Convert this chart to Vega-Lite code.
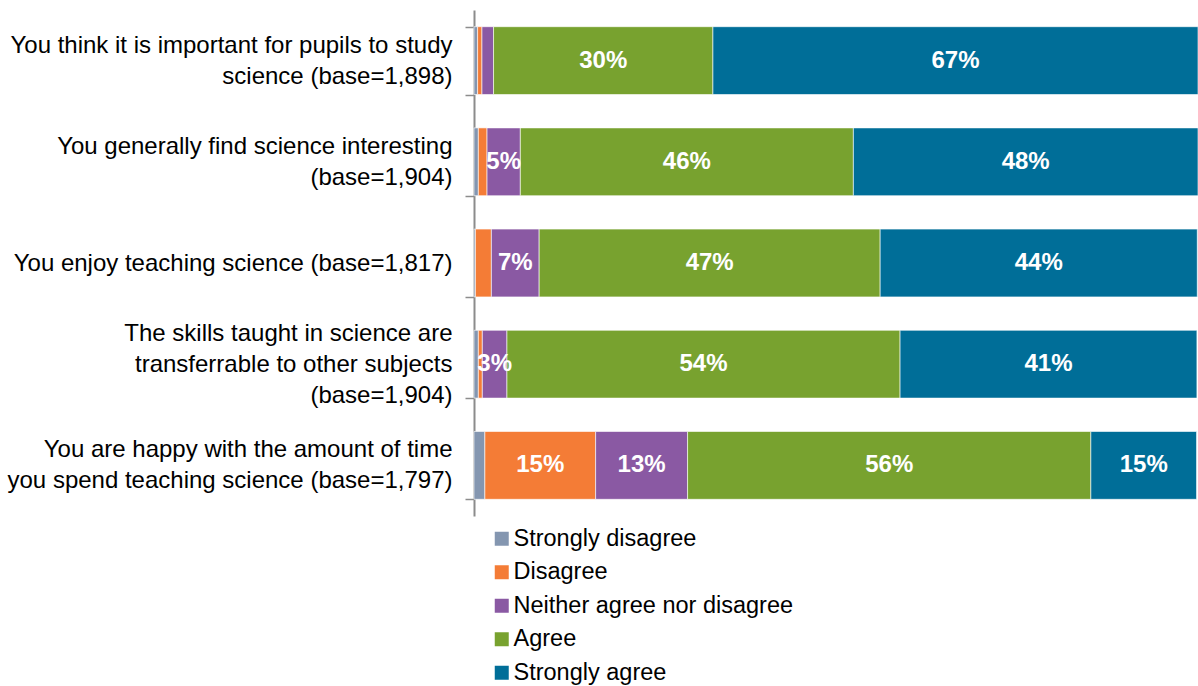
{
  "$schema": "https://vega.github.io/schema/vega-lite/v6.json",
  "width": 724,
  "height": 506,
  "autosize": {"type": "none"},
  "padding": {"left": 474, "top": 10, "right": 0, "bottom": 170},
  "background": "white",
  "config": {"view": {"stroke": null}, "font": "Liberation Sans"},
  "data": {
    "values": [
      {"item": "You think it is important for pupils to study|science (base=1,898)", "row": 1, "response": "Strongly disagree", "ord": 1, "value": 0.005},
      {"item": "You think it is important for pupils to study|science (base=1,898)", "row": 1, "response": "Disagree", "ord": 2, "value": 0.006},
      {"item": "You think it is important for pupils to study|science (base=1,898)", "row": 1, "response": "Neither agree nor disagree", "ord": 3, "value": 0.016},
      {"item": "You think it is important for pupils to study|science (base=1,898)", "row": 1, "response": "Agree", "ord": 4, "value": 0.303},
      {"item": "You think it is important for pupils to study|science (base=1,898)", "row": 1, "response": "Strongly agree", "ord": 5, "value": 0.670},
      {"item": "You generally find science interesting|(base=1,904)", "row": 2, "response": "Strongly disagree", "ord": 1, "value": 0.006},
      {"item": "You generally find science interesting|(base=1,904)", "row": 2, "response": "Disagree", "ord": 2, "value": 0.012},
      {"item": "You generally find science interesting|(base=1,904)", "row": 2, "response": "Neither agree nor disagree", "ord": 3, "value": 0.046},
      {"item": "You generally find science interesting|(base=1,904)", "row": 2, "response": "Agree", "ord": 4, "value": 0.460},
      {"item": "You generally find science interesting|(base=1,904)", "row": 2, "response": "Strongly agree", "ord": 5, "value": 0.476},
      {"item": "You enjoy teaching science (base=1,817)", "row": 3, "response": "Strongly disagree", "ord": 1, "value": 0.002},
      {"item": "You enjoy teaching science (base=1,817)", "row": 3, "response": "Disagree", "ord": 2, "value": 0.022},
      {"item": "You enjoy teaching science (base=1,817)", "row": 3, "response": "Neither agree nor disagree", "ord": 3, "value": 0.066},
      {"item": "You enjoy teaching science (base=1,817)", "row": 3, "response": "Agree", "ord": 4, "value": 0.471},
      {"item": "You enjoy teaching science (base=1,817)", "row": 3, "response": "Strongly agree", "ord": 5, "value": 0.438},
      {"item": "The skills taught in science are|transferrable to other subjects|(base=1,904)", "row": 4, "response": "Strongly disagree", "ord": 1, "value": 0.006},
      {"item": "The skills taught in science are|transferrable to other subjects|(base=1,904)", "row": 4, "response": "Disagree", "ord": 2, "value": 0.0055},
      {"item": "The skills taught in science are|transferrable to other subjects|(base=1,904)", "row": 4, "response": "Neither agree nor disagree", "ord": 3, "value": 0.034},
      {"item": "The skills taught in science are|transferrable to other subjects|(base=1,904)", "row": 4, "response": "Agree", "ord": 4, "value": 0.543},
      {"item": "The skills taught in science are|transferrable to other subjects|(base=1,904)", "row": 4, "response": "Strongly agree", "ord": 5, "value": 0.410},
      {"item": "You are happy with the amount of time|you spend teaching science (base=1,797)", "row": 5, "response": "Strongly disagree", "ord": 1, "value": 0.015},
      {"item": "You are happy with the amount of time|you spend teaching science (base=1,797)", "row": 5, "response": "Disagree", "ord": 2, "value": 0.153},
      {"item": "You are happy with the amount of time|you spend teaching science (base=1,797)", "row": 5, "response": "Neither agree nor disagree", "ord": 3, "value": 0.127},
      {"item": "You are happy with the amount of time|you spend teaching science (base=1,797)", "row": 5, "response": "Agree", "ord": 4, "value": 0.557},
      {"item": "You are happy with the amount of time|you spend teaching science (base=1,797)", "row": 5, "response": "Strongly agree", "ord": 5, "value": 0.146}
    ]
  },
  "transform": [
    {"stack": "value", "groupby": ["item"], "sort": [{"field": "ord", "order": "ascending"}], "as": ["x0", "x1"], "offset": "zero"},
    {"calculate": "(datum.x0 + datum.x1) / 2", "as": "xm"}
  ],
  "encoding": {
    "y": {
      "field": "item", "type": "nominal",
      "sort": {"field": "row", "order": "ascending"},
      "scale": {"paddingInner": 0.33, "paddingOuter": 0.165},
      "axis": {
        "title": null,
        "labelExpr": "isValid(datum.value) ? split(datum.value, '|') : ''",
        "labelFontSize": 24,
        "labelColor": "#000000",
        "labelLineHeight": 31,
        "labelPadding": 13,
        "labelLimit": 480,
        "labelOffset": {
          "condition": [
            {"test": "isValid(datum.value) && length(split(datum.value, '|')) == 3", "value": -31},
            {"test": "isValid(datum.value) && length(split(datum.value, '|')) == 2", "value": -15.5}
          ],
          "value": 0
        },
        "tickBand": "extent",
        "tickSize": 9,
        "tickColor": "#8c8c8c",
        "tickWidth": 1.5,
        "domainColor": "#8c8c8c",
        "domainWidth": 2
      }
    }
  },
  "layer": [
    {
      "mark": {"type": "bar", "stroke": "white", "strokeWidth": 0.6},
      "encoding": {
        "x": {"field": "x0", "type": "quantitative", "scale": {"domain": [0, 1], "nice": false}, "axis": null},
        "x2": {"field": "x1"},
        "color": {
          "field": "response", "type": "nominal",
          "scale": {
            "domain": ["Strongly disagree", "Disagree", "Neither agree nor disagree", "Agree", "Strongly agree"],
            "range": ["#8496B0", "#F47C36", "#8A59A3", "#78A22F", "#006E98"]
          },
          "legend": {
            "title": null,
            "orient": "none",
            "legendX": 16,
            "legendY": 517,
            "symbolType": "square",
            "symbolSize": 196,
            "symbolStrokeWidth": 0,
            "labelFontSize": 23.5,
            "labelColor": "#000000",
            "labelOffset": 0,
            "rowPadding": 8.5,
            "labelLimit": 400
          }
        }
      }
    },
    {
      "transform": [{"filter": "datum.value >= 0.03"}],
      "mark": {"type": "text", "color": "white", "fontWeight": "bold", "fontSize": 24, "align": "center", "baseline": "middle"},
      "encoding": {
        "x": {"field": "xm", "type": "quantitative"},
        "text": {"field": "value", "type": "quantitative", "format": ".0%"}
      }
    }
  ]
}
